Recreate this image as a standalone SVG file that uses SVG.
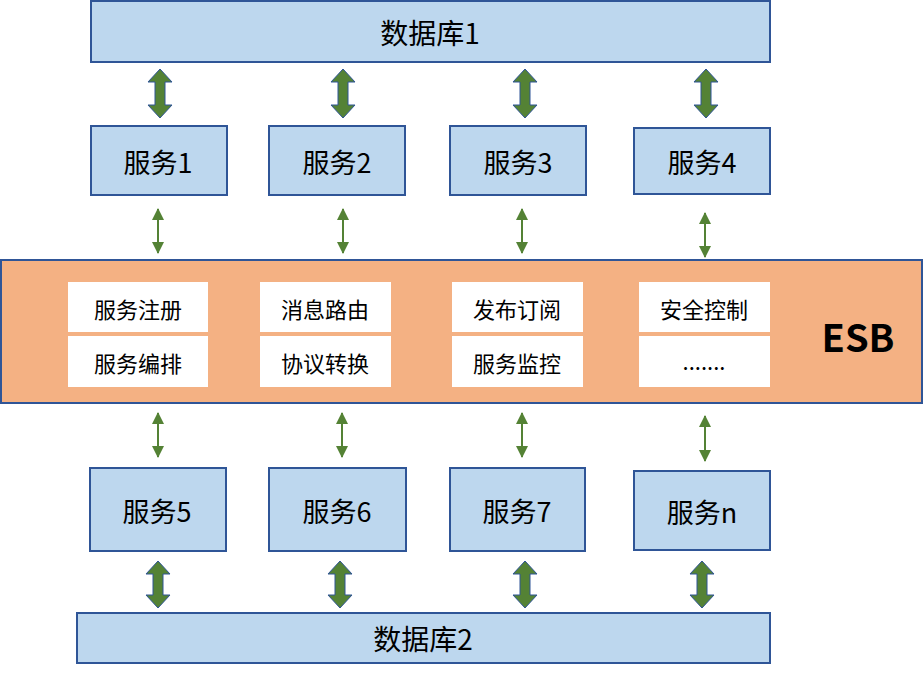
<svg xmlns="http://www.w3.org/2000/svg" width="923" height="674" viewBox="0 0 923 674">
<defs>
<style>
.db,.svc{fill:#BDD7EE;stroke:#2F5597;stroke-width:2}
.esb{fill:#F4B183;stroke:#2F5597;stroke-width:2}
.fn{fill:#FFFFFF}
.t{font-family:"Microsoft YaHei","Noto Sans CJK SC",sans-serif;fill:#000;text-anchor:middle;dominant-baseline:central}
.big{font-size:28px}
.svt{font-size:27px}
.ft{font-size:22px}
.esbt{font-family:"Microsoft YaHei","Noto Sans CJK SC","Noto Sans",sans-serif;font-weight:bold;font-size:38px;fill:#000;text-anchor:middle;dominant-baseline:central}
.fat{fill:#548235;stroke:#2F5597;stroke-width:1}
.thin{stroke:#548235;stroke-width:2;fill:none;marker-start:url(#ah);marker-end:url(#ah)}
</style>
<marker id="ah" viewBox="0 0 12 12" refX="11" refY="6" markerWidth="12" markerHeight="12" markerUnits="userSpaceOnUse" orient="auto-start-reverse">
<path d="M0,0 L12,6 L0,12 Z" fill="#548235"/>
</marker>
</defs>

<g id="db1"><rect class="db" x="91" y="1" width="679" height="61"/><text class="t big" x="430" y="32">数据库1</text></g>
<g id="svc1"><rect class="svc" x="91" y="126" width="136" height="69"/><text class="t svt" x="158" y="161">服务1</text></g>
<g id="svc2"><rect class="svc" x="269" y="126" width="136" height="69"/><text class="t svt" x="337" y="161">服务2</text></g>
<g id="svc3"><rect class="svc" x="450" y="126" width="136" height="69"/><text class="t svt" x="518" y="161">服务3</text></g>
<g id="svc4"><rect class="svc" x="634" y="128" width="136" height="66"/><text class="t svt" x="702" y="161">服务4</text></g>

<g id="esb">
<rect class="esb" x="1" y="260" width="921" height="143"/>
<text class="esbt" x="858" y="335">ESB</text>
</g>
<g id="f1"><rect class="fn" x="68" y="282" width="140" height="50"/><text class="t ft" x="138" y="308">服务注册</text></g>
<g id="f2"><rect class="fn" x="68" y="336" width="140" height="51"/><text class="t ft" x="138" y="362">服务编排</text></g>
<g id="f3"><rect class="fn" x="260" y="282" width="131" height="50"/><text class="t ft" x="325" y="308">消息路由</text></g>
<g id="f4"><rect class="fn" x="260" y="336" width="131" height="51"/><text class="t ft" x="325" y="362">协议转换</text></g>
<g id="f5"><rect class="fn" x="452" y="282" width="131" height="50"/><text class="t ft" x="517" y="308">发布订阅</text></g>
<g id="f6"><rect class="fn" x="452" y="336" width="131" height="51"/><text class="t ft" x="517" y="362">服务监控</text></g>
<g id="f7"><rect class="fn" x="639" y="282" width="131" height="50"/><text class="t ft" x="704" y="308">安全控制</text></g>
<g id="f8"><rect class="fn" x="639" y="336" width="131" height="51"/><text class="t ft" x="704" y="360">.......</text></g>

<g id="svc5"><rect class="svc" x="90" y="468" width="136" height="83"/><text class="t svt" x="157" y="510">服务5</text></g>
<g id="svc6"><rect class="svc" x="269" y="468" width="137" height="83"/><text class="t svt" x="337" y="510">服务6</text></g>
<g id="svc7"><rect class="svc" x="450" y="468" width="135" height="83"/><text class="t svt" x="517" y="510">服务7</text></g>
<g id="svcn"><rect class="svc" x="634" y="471" width="136" height="79"/><text class="t svt" x="702" y="511">服务n</text></g>
<g id="db2"><rect class="db" x="77" y="613" width="693" height="50"/><text class="t big" x="423" y="638">数据库2</text></g>

<g id="connectors">
<path class="fat" d="M160,69 L172,82 L165,82 L165,105 L172,105 L160,118 L148,105 L155,105 L155,82 L148,82 Z"/>
<path class="fat" d="M343,69 L355,82 L348,82 L348,105 L355,105 L343,118 L331,105 L338,105 L338,82 L331,82 Z"/>
<path class="fat" d="M525,69 L537,82 L530,82 L530,105 L537,105 L525,118 L513,105 L520,105 L520,82 L513,82 Z"/>
<path class="fat" d="M706,69 L718,82 L711,82 L711,105 L718,105 L706,118 L694,105 L701,105 L701,82 L694,82 Z"/>

<path class="thin" d="M158,209 L158,253"/>
<path class="thin" d="M343,209 L343,253"/>
<path class="thin" d="M522,209 L522,253"/>
<path class="thin" d="M705,213 L705,257"/>

<path class="thin" d="M158,413 L158,457"/>
<path class="thin" d="M342,413 L342,457"/>
<path class="thin" d="M522,413 L522,457"/>
<path class="thin" d="M705,416 L705,461"/>

<path class="fat" d="M158,561 L170,574 L163,574 L163,595 L170,595 L158,608 L146,595 L153,595 L153,574 L146,574 Z"/>
<path class="fat" d="M340,561 L352,574 L345,574 L345,595 L352,595 L340,608 L328,595 L335,595 L335,574 L328,574 Z"/>
<path class="fat" d="M525,561 L537,574 L530,574 L530,595 L537,595 L525,608 L513,595 L520,595 L520,574 L513,574 Z"/>
<path class="fat" d="M702,561 L714,574 L707,574 L707,595 L714,595 L702,608 L690,595 L697,595 L697,574 L690,574 Z"/>
</g>
</svg>
